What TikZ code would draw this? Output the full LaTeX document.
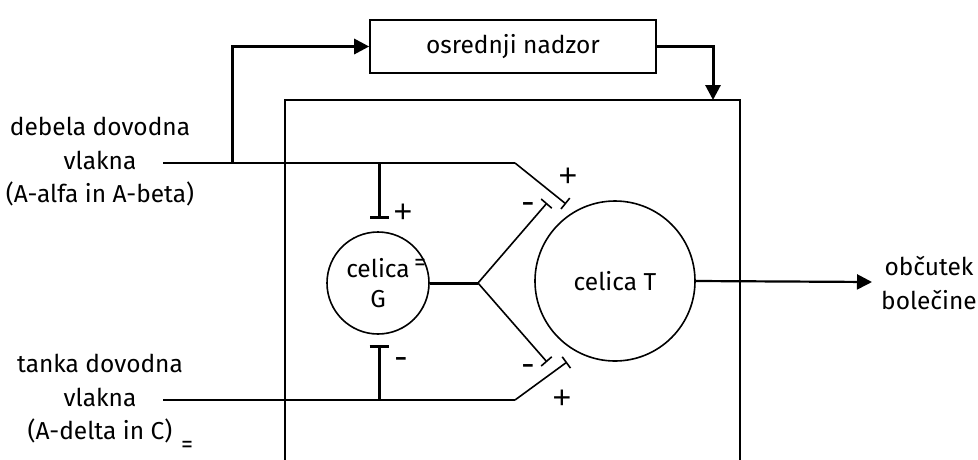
\documentclass[tikz,border=0pt]{standalone}
\usepackage{fontspec}
\setmainfont{Fira Sans}
\newfontfamily\plusfont{Liberation Sans}
\usetikzlibrary{arrows.meta}
\begin{document}
\begin{tikzpicture}[x=1pt,y=-1pt,
  thinline/.style={line width=1.6pt},
  thickline/.style={line width=3pt},
  txt/.style={font=\fontsize{24.5}{33.5}\selectfont, align=center, inner sep=0pt},
  sign/.style={font=\fontsize{34}{34}\selectfont, inner sep=0pt},
  plussign/.style={font=\plusfont\fontsize{32}{32}\selectfont, inner sep=0pt},
  tiny/.style={font=\fontsize{24}{24}\selectfont, inner sep=0pt},
  arr/.style={-{Triangle[length=15pt,width=15pt]}},
  inhib/.style={-{Bar[width=14pt,line width=1.6pt]}},
  inhibthick/.style={-{Bar[width=19pt,line width=3pt]}}
]
\useasboundingbox (0,0) rectangle (978,459);

% nodes
\node[draw, thinline, minimum width=286pt, minimum height=53pt, txt] (nadzor) at (513,46.5) {osrednji nadzor};
\node[draw, thinline, minimum width=455pt, minimum height=420pt, inner sep=0pt] (spine) at (512.5,310) {};
\node[draw, thinline, circle, minimum size=102pt, inner sep=0pt, txt, font=\fontsize{24.5}{30}\selectfont] (G) at (378,283) {celica\\G};
\node[tiny] (eqG) at (420,265) {=};
\node[draw, thinline, circle, minimum size=160pt, inner sep=0pt, txt] (T) at (615,281) {celica T};
\node[txt] (debela) at (100,162) {debela dovodna\\vlakna\\(A-alfa in A-beta)};
\node[txt] (tanka) at (100,399) {tanka dovodna\\vlakna\\(A-delta in C)};
\node[tiny] (eqA) at (187,447) {=};
\node[txt] (bol) at (929,283) {občutek\\bolečine};

% signs
\node[plussign] (p1) at (403,213) {+};
\node[sign] (m1) at (401,364) {-};
\node[plussign] (p2) at (568,177) {+};
\node[sign] (m2) at (528,209) {-};
\node[sign] (m3) at (528,371) {-};
\node[plussign] (p3) at (562,399) {+};

% coordinates
\coordinate (a1) at (163,163);
\coordinate (j1) at (232,163);
\coordinate (k1) at (379,163);
\coordinate (b1) at (515,163);
\coordinate (e1) at (566,204);
\coordinate (kb1) at (379,219);
\coordinate (a2) at (163,400);
\coordinate (k2) at (379,400);
\coordinate (b2) at (515,400);
\coordinate (e2) at (567,362);
\coordinate (kb2) at (379,345);
\coordinate (br) at (478,283);
\coordinate (bu) at (547,203);
\coordinate (bd) at (547,362);
\coordinate (s1) at (713,100);
\coordinate (out) at (872,282);

% connectors
\draw[thinline] (a1) -- (b1);
\draw[thinline, inhib] (b1) -- (e1);
\draw[thickline, inhibthick] (k1) -- (kb1);
\draw[thickline, arr] (j1) |- (nadzor.west);
\draw[thickline, arr] (nadzor.east) -| (s1);
\draw[thinline] (a2) -- (b2);
\draw[thinline, inhib] (b2) -- (e2);
\draw[thickline, inhibthick] (k2) -- (kb2);
\draw[thickline] (G.east) -- (br);
\draw[thinline, inhib] (br) -- (bu);
\draw[thinline, inhib] (br) -- (bd);
\draw[line width=2.2pt, arr] (T.east) -- (out);
\end{tikzpicture}
\end{document}
